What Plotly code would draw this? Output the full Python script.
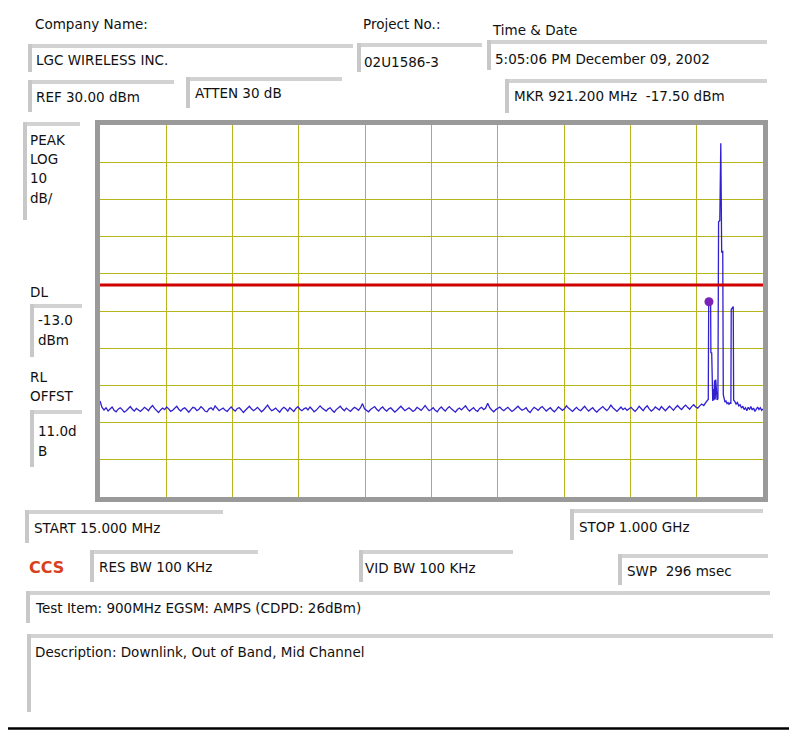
import plotly.graph_objects as go

# sweep settings and readings (MHz / dBm)
START_MHZ = 15.0
STOP_MHZ = 1000.0
REF_DBM = 30.0
DB_PER_DIV = 10
DL_DBM = -13.0
MKR_MHZ = 921.2
MKR_DBM = -17.5

# noise floor, one sweep point every 3 MHz from 15 MHz up to 912 MHz
NOISE_STEP = 3.0
noise_dbm = [
    -44.2, -45.9, -46.6, -46.0, -46.9, -46.3, -45.8, -46.7, -47.1, -46.4, -46.0, -46.5, -47.2, -46.8, -46.1, -45.7, -46.4, -46.9, -46.2, -46.6,
    -47.0, -46.5, -45.9, -46.3, -46.8, -46.0, -45.4, -46.2, -46.7, -47.3, -46.6, -46.1, -46.5, -45.8, -46.3, -47.0, -46.7, -46.2, -45.6, -46.4,
    -46.9, -46.3, -46.0, -46.6, -47.2, -46.5, -45.9, -46.1, -46.8, -46.4, -45.7, -46.2, -46.9, -47.1, -46.3, -46.0, -46.6, -45.5, -46.2, -46.8,
    -46.4, -46.1, -46.7, -47.0, -46.3, -45.8, -46.5, -46.9, -46.2, -46.0, -46.6, -47.3, -46.7, -46.1, -45.6, -46.3, -46.8, -46.4, -45.9, -46.5,
    -47.1, -46.6, -46.0, -45.3, -46.2, -46.8, -46.5, -46.1, -46.7, -47.2, -46.4, -45.9, -46.3, -46.9, -46.0, -46.5, -47.0, -46.2, -45.7, -46.4,
    -46.8, -46.3, -46.0, -46.6, -45.8, -46.4, -47.1, -46.7, -46.2, -45.5, -46.1, -46.6, -46.9, -46.3, -46.0, -46.7, -47.2, -46.5, -46.0, -45.6,
    -46.3, -46.8, -46.1, -46.5, -47.0, -46.4, -45.9, -46.2, -46.7, -46.0, -44.9, -46.3, -46.8, -47.1, -46.5, -46.1, -45.7, -46.4, -46.9, -46.2,
    -45.8, -46.5, -46.9, -46.3, -46.0, -46.6, -47.2, -46.7, -46.1, -45.6, -46.2, -46.8, -46.4, -46.0, -46.5, -47.0, -46.6, -45.9, -46.3, -46.7,
    -46.1, -45.4, -46.2, -46.8, -46.5, -46.0, -46.7, -47.1, -46.3, -45.8, -46.4, -46.9, -46.2, -45.7, -46.3, -46.8, -47.2, -46.5, -46.1, -46.6,
    -46.0, -45.5, -46.3, -46.9, -46.4, -46.0, -46.7, -47.0, -46.2, -45.9, -46.5, -46.1, -44.8, -46.0, -46.6, -47.1, -46.5, -46.2, -45.8, -46.4,
    -46.8, -46.3, -45.9, -46.5, -47.0, -46.6, -46.1, -45.6, -46.2, -46.7, -46.4, -46.0, -46.8, -47.3, -46.5, -45.9, -46.3, -46.7, -46.1, -45.7,
    -46.3, -46.9, -46.4, -46.0, -46.6, -47.1, -46.5, -45.8, -46.2, -46.7, -46.3, -45.5, -46.1, -46.6, -47.0, -46.4, -45.9, -46.5, -46.8, -46.2,
    -45.6, -46.3, -46.9, -46.4, -46.0, -46.7, -47.2, -46.6, -46.1, -45.7, -46.3, -46.8, -46.2, -45.3, -46.0, -46.6, -47.0, -46.4, -45.8, -46.5,
    -46.1, -46.7, -46.3, -45.9, -46.5, -47.0, -46.4, -45.6, -46.2, -46.8, -46.0, -45.5, -46.3, -46.9, -46.5, -45.8, -46.2, -46.6, -45.7, -46.3,
    -46.8, -46.2, -45.6, -46.1, -46.7, -46.0, -45.4, -46.0, -46.5, -45.8, -45.3, -45.9, -46.4, -45.7, -45.2, -45.8, -46.1, -45.5, -45.0, -45.4,
]

# signal region around the carriers
peak_mhz = [913.5, 915.4, 917.5, 918.7, 919.3, 921.2, 922.2, 922.6, 923.8, 924.3,
            925.3, 926.2, 927.0, 928.0, 929.0, 929.8, 930.8, 931.8, 933.0, 934.0,
            935.8, 937.3, 938.6, 940.2, 941.0, 942.0, 943.5, 945.0, 946.5, 948.0,
            949.5, 951.0, 952.3, 952.8, 954.3, 955.8, 956.4]
peak_dbm = [-44.8, -44.5, -44.0, -43.8, -17.8, -17.5, -17.9, -31.2, -31.3, -43.5,
            -44.2, -41.0, -44.0, -38.6, -43.8, -38.4, -43.5, -43.9, -43.6, 4.0,
            4.3, 25.1, -4.1, -4.0, -42.5, -43.8, -44.5, -44.2, -44.9, -44.6,
            -45.1, -44.7, -44.9, -19.6, -19.2, -18.8, -44.0]

# upper band edge
tail_mhz = [958, 960, 962, 964, 966, 968, 970, 972, 974, 976, 978,
            980, 982, 984, 986, 988, 990, 992, 994, 996, 998, 1000]
tail_dbm = [-44.3, -45.0, -44.6, -45.5, -45.2, -46.1, -45.6, -46.5, -46.0, -46.8, -45.9,
            -46.4, -45.7, -46.6, -46.1, -47.0, -46.2, -45.8, -46.5, -46.0, -46.7, -46.3]

# the page puts the figure 8 px in from the window corner
OFF = 8
W, H = 797 - OFF, 730 - OFF
FONT = "DejaVu Sans"
FS = 13.5


def px(x):
    return (x - OFF) / W


def py(y):
    return 1 - (y - OFF) / H


trace_mhz = [START_MHZ + i * NOISE_STEP for i in range(len(noise_dbm))] + peak_mhz + tail_mhz
trace_dbm = noise_dbm + peak_dbm + tail_dbm

fig = go.Figure()
fig.add_trace(go.Scatter(x=trace_mhz, y=trace_dbm, mode="lines",
                         line=dict(color="#3020d0", width=1.3), hoverinfo="skip"))
fig.add_trace(go.Scatter(x=[START_MHZ, STOP_MHZ], y=[DL_DBM, DL_DBM], mode="lines",
                         line=dict(color="#d00000", width=3), hoverinfo="skip"))
fig.add_trace(go.Scatter(x=[MKR_MHZ - 1.5], y=[MKR_DBM], mode="markers",
                         marker=dict(color="#7a22b8", size=9), hoverinfo="skip"))

shapes = []
# sunken text boxes: grey top and left edges
boxes = [
    (28, 44, 353, 72), (357, 43, 482, 72), (487, 40, 767, 70),
    (28, 80, 174, 112), (186, 77, 342, 108), (505, 79, 767, 113),
    (23, 122, 80, 220), (30, 304, 82, 357), (30, 410, 82, 467),
    (25, 510, 223, 543), (90, 550, 258, 582), (359, 550, 513, 582),
    (570, 509, 763, 540), (618, 554, 768, 585),
    (26, 591, 770, 623), (27, 634, 773, 712),
]
for x0, y0, x1, y1 in boxes:
    shapes.append(dict(type="rect", xref="paper", yref="paper", layer="below",
                       x0=px(x0), x1=px(x1), y0=py(y0), y1=py(y0 + 4),
                       fillcolor="#d2d2d2", line=dict(width=0)))
    shapes.append(dict(type="rect", xref="paper", yref="paper", layer="below",
                       x0=px(x0), x1=px(x0 + 4), y0=py(y0), y1=py(y1),
                       fillcolor="#c8c8c8", line=dict(width=0)))

# plot frame
shapes.append(dict(type="rect", xref="paper", yref="paper", layer="above",
                   x0=px(97.5), x1=px(765.5), y0=py(122.5), y1=py(499.5),
                   line=dict(color="#9a9a9a", width=5)))
# outer black border, bottom edge
shapes.append(dict(type="line", xref="paper", yref="paper",
                   x0=px(OFF), x1=px(797), y0=py(728.5), y1=py(728.5),
                   line=dict(color="#000000", width=2.5)))

labels = [
    ("Company Name:", 33, 24), ("Project No.:", 361, 24), ("Time &amp; Date", 490, 30),
    ("LGC WIRELESS INC.", 34, 60), ("02U1586-3", 362, 62),
    ("5:05:06 PM December 09, 2002", 493, 59),
    ("REF 30.00 dBm", 34, 97), ("ATTEN 30 dB", 193, 93),
    ("MKR 921.200 MHz \u00a0-17.50 dBm", 512, 96),
    ("PEAK", 28, 140), ("LOG", 28, 159), ("10", 28, 178), ("dB/", 28, 198),
    ("DL", 28, 292), ("-13.0", 36, 320), ("dBm", 36, 340),
    ("RL", 28, 377), ("OFFST", 28, 396), ("11.0d", 36, 431), ("B", 36, 451),
    ("START 15.000 MHz", 32, 528), ("STOP 1.000 GHz", 577, 527),
    ("RES BW 100 KHz", 97, 567), ("VID BW 100 KHz", 363, 568),
    ("SWP \u00a0296 msec", 625, 571),
    ("Test Item: 900MHz EGSM: AMPS (CDPD: 26dBm)", 33, 608),
    ("Description: Downlink, Out of Band, Mid Channel", 33, 652),
]
annotations = [dict(text=t, x=px(x), y=py(y), xref="paper", yref="paper",
                    xanchor="left", yanchor="middle", showarrow=False,
                    font=dict(family=FONT, size=FS, color="#111111"))
               for t, x, y in labels]
annotations.append(dict(text="<b>CCS</b>", x=px(27), y=py(567), xref="paper", yref="paper",
                        xanchor="left", yanchor="middle", showarrow=False,
                        font=dict(family=FONT, size=16, color="#d8401c")))

grid = "#b8b41e"
fig.update_layout(
    width=W, height=H, autosize=False,
    margin=dict(l=0, r=0, t=0, b=0),
    paper_bgcolor="white", plot_bgcolor="white",
    showlegend=False,
    shapes=shapes, annotations=annotations,
    xaxis=dict(domain=[px(100), px(763)], range=[START_MHZ, STOP_MHZ],
               tick0=START_MHZ, dtick=(STOP_MHZ - START_MHZ) / 10,
               showgrid=True, gridcolor=grid, gridwidth=1.4,
               showticklabels=False, zeroline=False, ticks=""),
    yaxis=dict(domain=[py(497), py(125)], range=[REF_DBM - 10 * DB_PER_DIV, REF_DBM],
               tick0=REF_DBM, dtick=DB_PER_DIV,
               showgrid=True, gridcolor=grid, gridwidth=1.4,
               showticklabels=False, zeroline=False, ticks=""),
)

fig.write_html("out.html")
